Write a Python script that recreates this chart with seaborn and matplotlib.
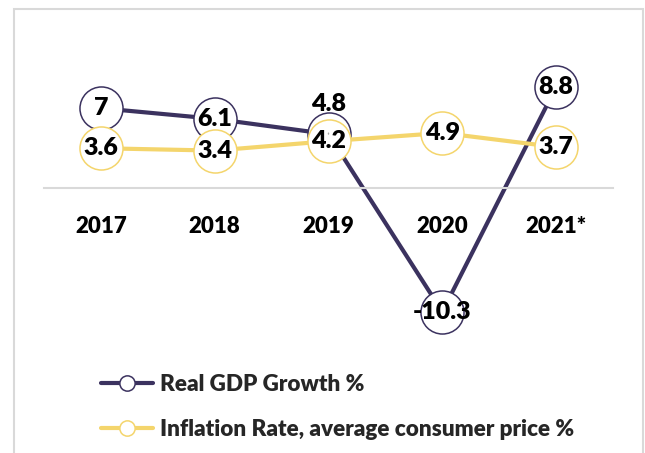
import matplotlib
matplotlib.use("Agg")
import matplotlib.pyplot as plt
from matplotlib.lines import Line2D
from matplotlib.patches import Rectangle
import seaborn as sns
import pandas as pd

years = ["2017", "2018", "2019", "2020", "2021*"]
gdp = [7, 6.1, 4.8, -10.3, 8.8]
inflation = [3.6, 3.4, 4.2, 4.9, 3.7]
gdp_label = "Real GDP Growth %"
infl_label = "Inflation Rate, average consumer price %"

NAVY = "#3b325f"
YELLOW = "#f4d56c"
FONT = "Lato"

sns.set_theme(style="white")
plt.rcParams["font.family"] = [FONT, "DejaVu Sans"]

fig = plt.figure(figsize=(6.45, 4.53), dpi=100)
W, H = 645, 453
ax = fig.add_axes([44 / W, 1 - 340 / H, (613 - 44) / W, 320 / H])

df = pd.DataFrame({"x": range(len(years)), "gdp": gdp, "infl": inflation})

sns.lineplot(data=df, x="x", y="gdp", ax=ax, color=NAVY, linewidth=3,
             marker="o", markersize=31, markerfacecolor="white",
             markeredgecolor=NAVY, markeredgewidth=1.1, zorder=2)
sns.lineplot(data=df, x="x", y="infl", ax=ax, color=YELLOW, linewidth=3,
             marker="o", markersize=31, markerfacecolor="white",
             markeredgecolor=YELLOW, markeredgewidth=1.1, zorder=3)

for i, v in enumerate(inflation):
    ax.text(i, v, f"{v:g}", ha="center", va="center", fontsize=18,
            fontweight="heavy", color="black", zorder=6)
for i, v in enumerate(gdp):
    if i == 2:
        ax.annotate(f"{v:g}", xy=(i, v), xytext=(0, 22), textcoords="offset points",
                    ha="center", va="center", fontsize=18, fontweight="heavy",
                    color="black", zorder=6,
                    arrowprops=dict(arrowstyle="-", color="#a6a6a6", lw=1,
                                    shrinkA=11, shrinkB=3))
    else:
        ax.text(i, v, f"{v:g}", ha="center", va="center", fontsize=18,
                fontweight="heavy", color="black", zorder=6)

ax.set_xlim(-0.5, 4.5)
ax.set_ylim(-12.7, 14.5)
ax.set_xlabel("")
ax.set_ylabel("")
for s in ["top", "left", "right"]:
    ax.spines[s].set_visible(False)
ax.spines["bottom"].set_position(("data", 0.2))
ax.spines["bottom"].set_color("#d9d9d9")
ax.spines["bottom"].set_linewidth(1.5)
ax.set_yticks([])
ax.set_xticks(range(len(years)))
ax.set_xticklabels(years, fontsize=16, fontweight="heavy", color="black")
ax.tick_params(axis="x", length=0, pad=20)
ax.patch.set_alpha(0)

handles = [
    Line2D([], [], color=NAVY, lw=3, marker="o", markersize=11,
           markerfacecolor="white", markeredgecolor=NAVY, markeredgewidth=1.1),
    Line2D([], [], color=YELLOW, lw=3, marker="o", markersize=11,
           markerfacecolor="white", markeredgecolor=YELLOW, markeredgewidth=1.1),
]
leg = fig.legend(handles, [gdp_label, infl_label], loc="upper left",
                 bbox_to_anchor=(81 / W, 1 - 354 / H), frameon=False,
                 handlelength=2.3, handletextpad=0.3, labelspacing=1.05,
                 prop={"family": FONT, "weight": "heavy", "size": 16.2})

fig.patches.append(Rectangle((14 / W, -0.2), (643 - 14) / W, 1.2 - 9 / H,
                             transform=fig.transFigure, fill=False,
                             edgecolor="#d9d9d9", linewidth=1.5))

fig.savefig("out.png", dpi=100)
